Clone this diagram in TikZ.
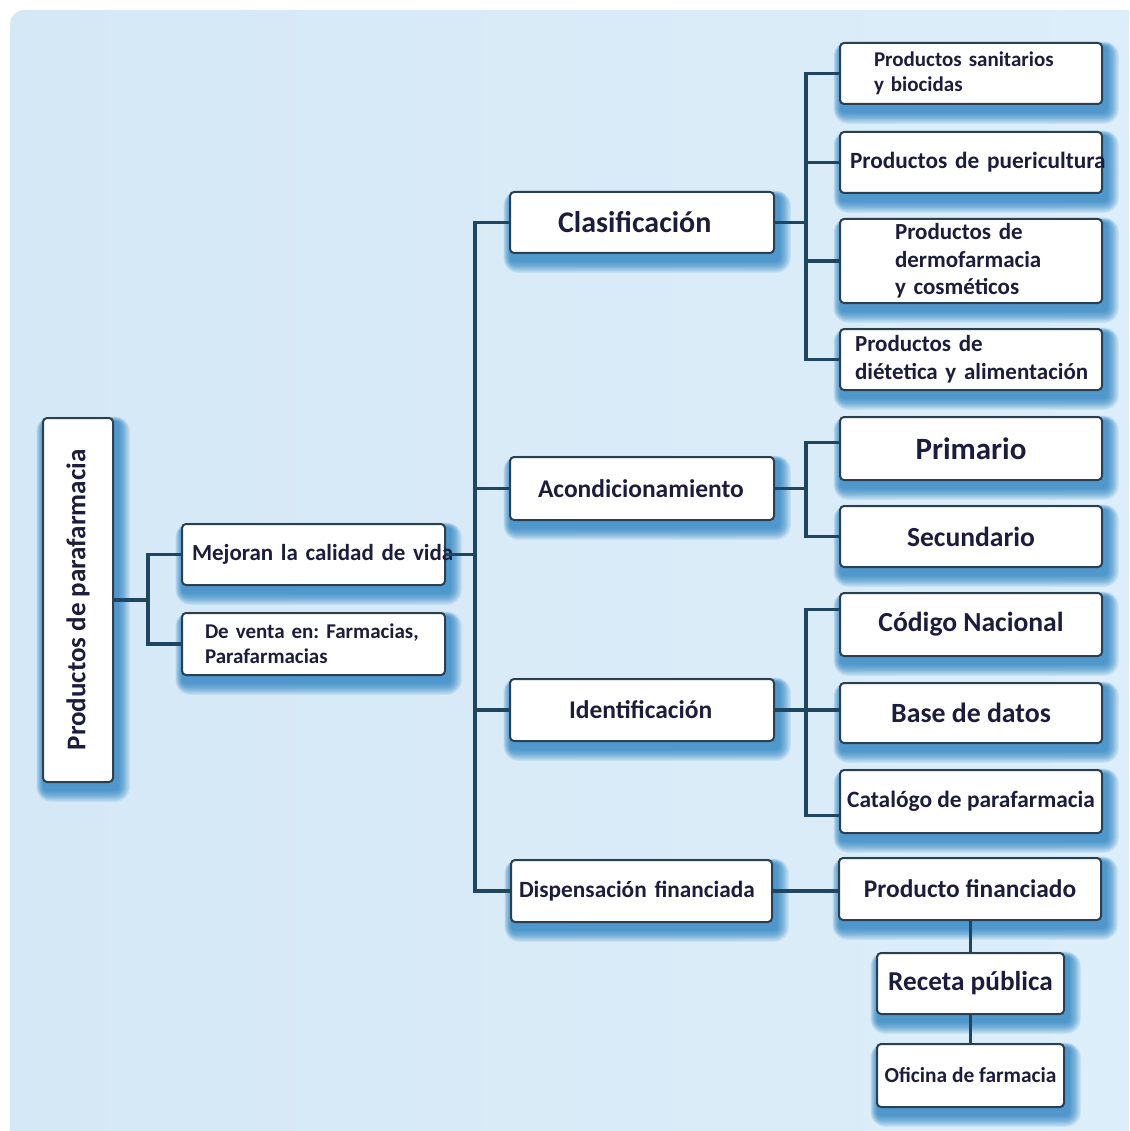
\documentclass[tikz,border=0pt]{standalone}
\usepackage{fontspec}
\setmainfont{Carlito}
\frenchspacing

\definecolor{bgblue}{HTML}{D5E8F6}
\definecolor{bgblueR}{HTML}{DCEEF9}
\definecolor{edge}{HTML}{2A3F4F}
\definecolor{wire}{HTML}{1E4660}
\definecolor{glow}{HTML}{1777BC}
\definecolor{ink}{HTML}{1C1C3C}

\pgfdeclarelayer{panel}
\pgfdeclarelayer{halo}
\pgfsetlayers{panel,halo,main}

\tikzset{
  box/.style={draw=edge, line width=2pt, fill=white, rounded corners=4pt,
    inner sep=0pt, text=ink},
  fs/.style 2 args={font=\fontsize{#1}{#2}\selectfont\bfseries},
  wd/.style 2 args={minimum width=#1, minimum height=#2},
  lft/.style 2 args={text width=#1-2*#2, inner xsep=#2, align=left},
  conn/.style={draw=wire, line width=3.8pt}
}

\begin{document}
\begin{tikzpicture}[x={(1pt,0)}, y={(0,-1pt)}]
  \useasboundingbox (0,0) rectangle (1129,1131);

  % root (vertical title)
  \node[box, wd={70}{364}] (root) at (78,600)
    {\rotatebox{90}{\fontsize{27}{32}\selectfont\bfseries Productos de parafarmacia}};

  % first level
  \node[box, wd={263}{61}, lft={263}{10}, fs={23}{27}] (mej) at (313.5,554.5)
    {\mbox{Mejoran la calidad de vida}};
  \node[box, wd={263}{62}, lft={263}{23}, fs={21}{25}] (venta) at (313.5,644)
    {\mbox{De venta en: Farmacias,}\\Parafarmacias};

  % second level
  \node[box, wd={264}{61}, lft={264}{48}, fs={30}{34}] (clas) at (642,222.5)
    {Clasificación};
  \node[box, wd={264}{63}, lft={264}{28}, fs={25.5}{30}] (acond) at (642,488.5)
    {Acondicionamiento};
  \node[box, wd={264}{62}, lft={264}{59}, fs={25.5}{30}] (ident) at (642,710)
    {Identificación};
  \node[box, wd={261}{62}, lft={261}{8}, fs={23.3}{27}] (disp) at (641.5,891)
    {\mbox{Dispensación financiada}};

  % classification leaves
  \node[box, wd={262}{61}, lft={262}{34}, fs={21}{25}] (san) at (971,73.5)
    {\mbox{Productos sanitarios}\\y biocidas};
  \node[box, wd={262}{61}, lft={262}{10}, fs={23.3}{27}] (pue) at (971,162.5)
    {\mbox{Productos de puericultura}};
  \node[box, wd={262}{84}, lft={262}{55}, fs={23}{27.5}] (der) at (971,261)
    {Productos de\\dermofarmacia\\y cosméticos};
  \node[box, wd={262}{61}, lft={262}{15}, fs={23}{28}] (die) at (971,359.5)
    {Productos de\\\mbox{diétetica y alimentación}};

  % packaging leaves
  \node[box, wd={262}{63}, fs={31}{36}] (pri) at (971,448.5) {Primario};
  \node[box, wd={262}{61}, fs={27.6}{32}] (sec) at (971,536.5) {Secundario};

  % identification leaves
  \node[box, wd={262}{63}, fs={27.6}{32}] (cod) at (971,624.5) {Código Nacional};
  \node[box, wd={262}{60}, fs={27.8}{32}] (bas) at (971,713) {Base de datos};
  \node[box, wd={262}{63}, fs={23.4}{28}] (cat) at (971,801.5) {Catalógo de parafarmacia};

  % financed dispensing chain
  \node[box, wd={262}{62}, fs={25.4}{30}] (pfi) at (970,889) {Producto financiado};
  \node[box, wd={187}{61}, fs={27.3}{32}] (rec) at (970.5,983.5) {Receta pública};
  \node[box, wd={187}{63}, fs={21.4}{25}] (ofi) at (970.5,1075.5) {Oficina de farmacia};

  % page background panel
  \begin{pgfonlayer}{panel}
    \begin{scope}
      \clip (0,0) rectangle (1129,1131);
      \shade[left color=bgblue, right color=bgblueR, rounded corners=14pt]
        (10,10) rectangle (1145,1150);
    \end{scope}
  \end{pgfonlayer}

  % soft blue halo below and to the right of every box
  \begin{pgfonlayer}{halo}
    \foreach \n in {root,mej,venta,clas,acond,ident,disp,san,pue,der,die,
                    pri,sec,cod,bas,cat,pfi,rec,ofi}{
      \foreach \s in {0,1.2,...,11}{
        \fill[glow, opacity=0.11, rounded corners=4pt+\s pt]
          ([shift={(1pt-0.6*\s pt,-4pt+0.4*\s pt)}]\n.north west)
          rectangle ([shift={(5pt+\s pt,-8pt-\s pt)}]\n.south east);
      }
    }
  \end{pgfonlayer}

  % ---- connectors ----
  % root to first level
  \draw[conn] (root.east) -- ++(34,0) coordinate (rj);
  \draw[conn] (mej.west) -- (mej.west -| rj) -- (venta.west -| rj) -- (venta.west);

  % main trunk
  \draw[conn] (clas.west) -- ++(-34,0) coordinate (tj) -- (tj |- disp.west) -- (disp.west);
  \draw[conn] (acond.west) -- (acond.west -| tj);
  \draw[conn] (ident.west) -- (ident.west -| tj);
  \draw[conn] (mej.east) -- (mej.east -| tj);

  % classification bracket
  \draw[conn] (clas.east) -- ++(31,0) coordinate (cj);
  \draw[conn] (san.west) -- (san.west -| cj) -- (die.west -| cj) -- (die.west);
  \draw[conn] (pue.west) -- (pue.west -| cj);
  \draw[conn] (der.west) -- (der.west -| cj);

  % packaging bracket
  \draw[conn] (acond.east) -- ++(31,0) coordinate (aj);
  \draw[conn] ([yshift=6pt]pri.west) -- ([yshift=6pt]pri.west -| aj)
    -- (sec.west -| aj) -- (sec.west);

  % identification bracket
  \draw[conn] (ident.east) -- (ident.east -| bas.west);
  \coordinate (ij) at (aj |- ident.east);
  \draw[conn] ([yshift=15pt]cod.west) -- ([yshift=15pt]cod.west -| ij)
    -- ([yshift=-14pt]cat.west -| ij) -- ([yshift=-14pt]cat.west);

  % financed chain
  \draw[conn] (disp.east) -- (disp.east -| pfi.west);
  \draw[conn] (rec.north |- pfi.south) -- (rec.north);
  \draw[conn] (rec.south) -- (ofi.north);
\end{tikzpicture}
\end{document}
